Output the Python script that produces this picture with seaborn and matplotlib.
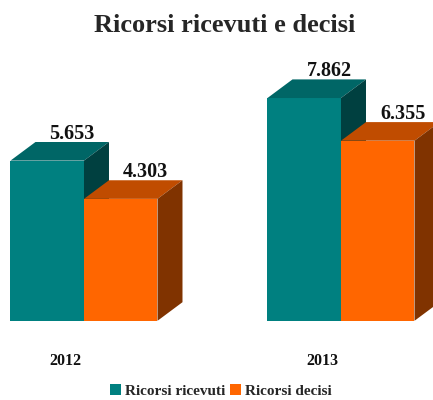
import matplotlib
matplotlib.use("Agg")
import matplotlib.pyplot as plt
from matplotlib.patches import Polygon, Patch
import seaborn as sns
import pandas as pd

years = ["2012", "2013"]
series = ["Ricorsi ricevuti", "Ricorsi decisi"]
ricevuti = [5653, 7862]
decisi = [4303, 6355]
value_labels = {"Ricorsi ricevuti": ["5.653", "7.862"], "Ricorsi decisi": ["4.303", "6.355"]}
title = "Ricorsi ricevuti e decisi"

front = {"Ricorsi ricevuti": "#008080", "Ricorsi decisi": "#FF6600"}
top_c = {"Ricorsi ricevuti": "#006666", "Ricorsi decisi": "#C04C00"}
side_c = {"Ricorsi ricevuti": "#004040", "Ricorsi decisi": "#803300"}

df = pd.DataFrame({
    "Anno": years * 2,
    "Serie": [series[0]] * 2 + [series[1]] * 2,
    "Valore": ricevuti + decisi,
})

sns.set_theme(style="white")
plt.rcParams["font.family"] = ["Liberation Serif", "DejaVu Serif"]

fig = plt.figure(figsize=(4.33, 4.0), dpi=100)
ax = fig.add_axes([0.0, 0.198, 1.0, 0.702])
sns.barplot(data=df, x="Anno", y="Valore", hue="Serie", hue_order=series,
            palette=front, width=0.572, gap=0, linewidth=0, saturation=1,
            legend=False, ax=ax)

ax.set_xlim(-0.3268, 1.358)
ax.set_ylim(0, 9909)
dx = 25 / 257
dy = 18.6 * 35.3

for k, (cont, name) in enumerate(zip(ax.containers, series)):
    z = 2 + 2 * k
    for j, bar in enumerate(cont.patches):
        bar.set_zorder(z)
        x0 = bar.get_x()
        x1 = x0 + bar.get_width()
        h = bar.get_height()
        ax.add_patch(Polygon([(x0, h), (x1, h), (x1 + dx, h + dy), (x0 + dx, h + dy)],
                             closed=True, facecolor=top_c[name], edgecolor="none", zorder=z + 0.5))
        ax.add_patch(Polygon([(x1, 0), (x1 + dx, dy), (x1 + dx, h + dy), (x1, h)],
                             closed=True, facecolor=side_c[name], edgecolor="none", zorder=z + 0.5))
        ax.annotate(value_labels[name][j], ((x0 + x1) / 2 + dx, h + dy),
                    xytext=(0, -1.5), textcoords="offset points",
                    ha="center", va="bottom", fontsize=14.5, fontweight="bold",
                    color="#111111", zorder=10, annotation_clip=False)

ax.set_xticks([0 - 19 / 257, 1 - 19 / 257])
ax.set_xticklabels(years, fontsize=11.5, fontweight="bold", color="#111111")
ax.tick_params(axis="x", length=0, pad=23)
ax.set_yticks([])
ax.set_xlabel("")
ax.set_ylabel("")
for s in ax.spines.values():
    s.set_visible(False)

fig.text(0.52, 1 - 25 / 400, title, ha="center", va="center",
         fontsize=19, fontweight="bold", color="#262626")

handles = [Patch(facecolor=front[s], edgecolor="none") for s in series]
fig.legend(handles, series, loc="center", bbox_to_anchor=(0.51, 1 - 391 / 400),
           ncol=2, frameon=False, handlelength=0.75, handleheight=0.75,
           handletextpad=0.25, columnspacing=0.3, borderpad=0.1,
           prop={"size": 11, "weight": "bold"})

fig.savefig("out.png", dpi=100)
